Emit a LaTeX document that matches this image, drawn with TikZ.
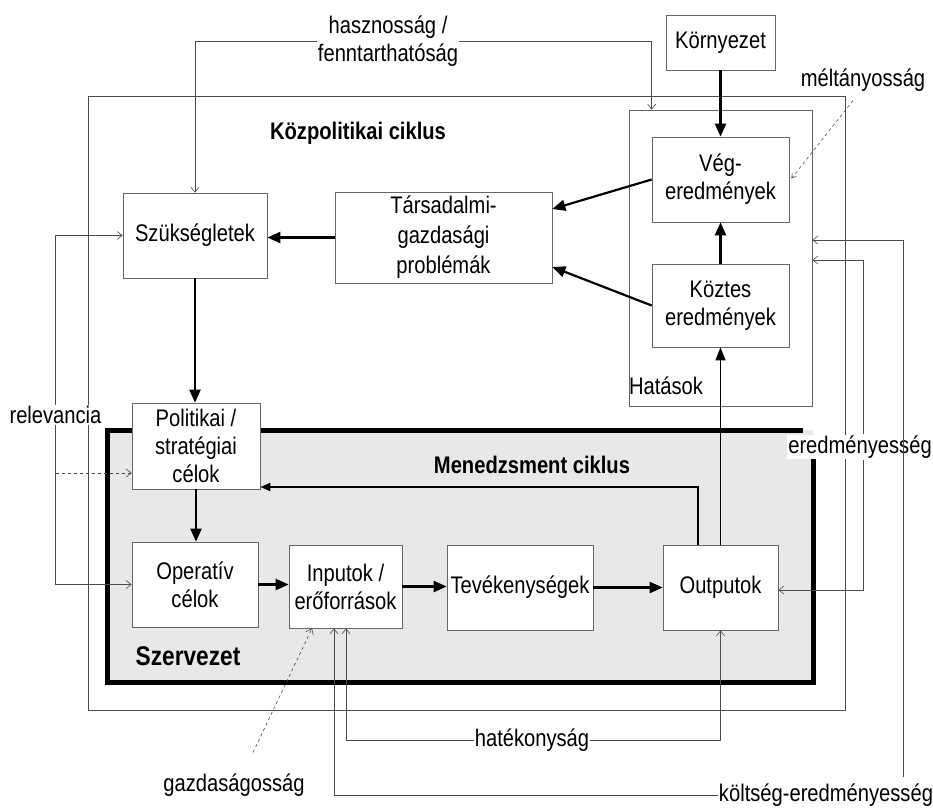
\documentclass[tikz,border=0pt]{standalone}
\usepackage{fontspec}
\setmainfont{Liberation Sans}[FakeStretch=0.84]
\usetikzlibrary{arrows.meta,calc}
\newcommand\dgfont{\fontsize{24}{28}\selectfont}
\begin{document}
\begin{tikzpicture}[x=1pt,y=-1pt,
  box/.style={draw=black!60, line width=0.7pt, fill=white, inner sep=0pt, align=center, font=\dgfont},
  lbl/.style={fill=white, inner sep=1pt, align=center, font=\dgfont},
  thk/.style={line width=2.2pt, -{Triangle[length=13pt,width=11pt]}},
  fb/.style={draw=black!70, line width=0.6pt},
  fba/.style={fb, -{Straight Barb[length=5pt,width=8pt]}},
  fbd/.style={fb, dashed, -{Straight Barb[length=5pt,width=8pt]}}]
\useasboundingbox (0,0) rectangle (933,807);
\fill[white] (0,0) rectangle (933,807);
% frames
\draw[fb] (88,96) rectangle (845,710);
\fill[black!9] (107,430) rectangle (813,682);
\draw[line width=5pt, line join=miter] (803,430) -- (107,430) -- (107,682) -- (813,682) -- (813,453);
% Hatasok frame
\node[box, minimum width=183pt, minimum height=296pt] (hat) at (720.5,258) {};
\node[font=\dgfont] (hatl) at (666,386) {Hatások};
% boxes
\node[box, minimum width=109pt, minimum height=55pt] (korny) at (720.5,42.5) {Környezet};
\node[box, minimum width=137pt, minimum height=85pt] (veg) at (720.5,179.5) {Vég-\\eredmények};
\node[box, minimum width=137pt, minimum height=83pt] (koz) at (720.5,305.5) {Köztes\\eredmények};
\node[box, minimum width=217pt, minimum height=91pt, font=\fontsize{24}{30}\selectfont] (tars) at (443.5,237.5) {Társadalmi-\\gazdasági\\problémák};
\node[box, minimum width=144pt, minimum height=85pt] (szuk) at (195,235.5) {Szükségletek};
\node[box, minimum width=128pt, minimum height=86pt] (pol) at (196,446) {Politikai /\\stratégiai\\célok};
\node[box, minimum width=126pt, minimum height=85pt] (oper) at (195,584.5) {Operatív\\célok};
\node[box, minimum width=113pt, minimum height=83pt] (inp) at (345.5,586.5) {Inputok /\\erőforrások};
\node[box, minimum width=146pt, minimum height=85pt] (tev) at (520,587.5) {Tevékenységek};
\node[box, minimum width=115pt, minimum height=85pt] (outp) at (720.5,587.5) {Outputok};
% titles
\node[font=\dgfont\bfseries] (kpc) at (358,133) {Közpolitikai ciklus};
\node[font=\dgfont\bfseries] (mc) at (532,465) {Menedzsment ciklus};
\node[font=\fontsize{27}{30}\selectfont\bfseries] (szerv) at (188,656) {Szervezet};
% labels
\node[lbl] (hasz) at (388,41) {hasznosság /\\fenntarthatóság};
\node[lbl] (melt) at (863,80) {méltányosság};
\node[lbl] (relev) at (55.5,415) {relevancia};
\node[lbl] (ered) at (860,447) {eredményesség};
\node[lbl] (kolt) at (826,795) {költség-eredményesség};
\node[lbl] (hatek) at (532,740) {hatékonyság};
\node[lbl] (gazd) at (234,785) {gazdaságosság};
% main arrows
\draw[thk] (korny) -- (veg);
\draw[thk] (veg.west) -- ($(tars.east)+(0,-28.5)$);
\draw[thk] (koz.west) -- ($(tars.east)+(0,29.5)$);
\draw[thk] (koz) -- (veg);
\draw[thk] (tars.west) -- (tars.west -| szuk.east);
\draw[thk] (szuk.south) -- (szuk.south |- pol.north);
\draw[thk] (pol.south) -- (pol.south |- oper.north);
\draw[thk] (oper.east) -- (oper.east -| inp.west);
\draw[thk] (inp.east) -- (inp.east -| tev.west);
\draw[thk] (tev.east) -- (tev.east -| outp.west);
\draw[line width=1.2pt, -{Triangle[length=13pt,width=10pt]}] (outp.north) -- (koz.south);
\draw[line width=1.8pt, -{Triangle[length=10pt,width=8pt]}] ($(outp.north)+(-22.5,0)$) |- ($(pol.east)+(0,41)$);
% feedback lines
\draw[fba] (hasz.west) -| (szuk.north);
\draw[fba] (hasz.east) -| ($(hat.north west)+(23,0)$);
\draw[fb, dashed, -{Straight Barb[length=4pt,width=5pt]}] ($(melt.south)+(-10,8)$) -- ($(veg.east)+(2,-1)$);
\draw[fba] (relev.north) |- (szuk.west);
\draw[fba] (relev.south) |- (oper.west);
\coordinate (relb) at (55.5,473);
\draw[fbd] (relb) -- (relb -| pol.west);
\coordinate (e1) at (863,260);
\coordinate (e2) at (863,590);
\draw[fba] (ered.north -| e1) -- (e1) -- (e1 -| hat.east);
\draw[fba] (ered.south -| e2) -- (e2) -- (e2 -| outp.east);
\coordinate (k1) at (903,240);
\coordinate (k0) at (903,777);
\draw[fba] (k0) -- (k1) -- (k1 -| hat.east);
\coordinate (k2) at (334,793);
\draw[fba] (kolt.west) -- (kolt.west -| k2) -- (k2 |- inp.south);
\coordinate (h1) at (346,740);
\draw[fba] (hatek.west) -- (h1) -- (h1 |- inp.south);
\draw[fba] (hatek.east) -| (outp.south);
\draw[fbd] ($(gazd.north)+(19,-20)$) -- ($(inp.south)+(-33.5,0)$);
\end{tikzpicture}
\end{document}
